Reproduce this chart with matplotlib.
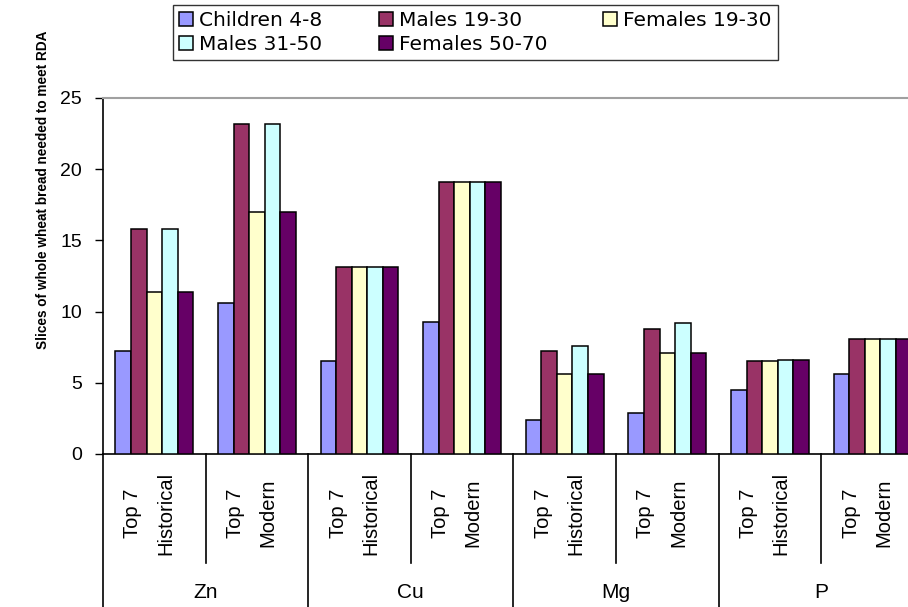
import matplotlib.pyplot as plt
import numpy as np
from matplotlib.patches import Patch

# slices of whole wheat bread per day to reach the RDA
minerals = ["Zn", "Cu", "Mg", "P"]
sources = ["Top 7\nHistorical", "Top 7\nModern"]

groups = ["Children 4-8", "Males 19-30", "Females 19-30", "Males 31-50", "Females 50-70"]
colors = ["#9999FF", "#993366", "#FFFFCC", "#CCFFFF", "#660066"]

children = [7.2, 10.6, 6.5, 9.3, 2.4, 2.9, 4.5, 5.6]
males_19_30 = [15.8, 23.2, 13.1, 19.1, 7.2, 8.8, 6.5, 8.1]
females_19_30 = [11.4, 17.0, 13.1, 19.1, 5.6, 7.1, 6.5, 8.1]
males_31_50 = [15.8, 23.2, 13.1, 19.1, 7.6, 9.2, 6.6, 8.1]
females_50_70 = [11.4, 17.0, 13.1, 19.1, 5.6, 7.1, 6.6, 8.1]

series = [children, males_19_30, females_19_30, males_31_50, females_50_70]

plt.rcParams['font.family'] = ['Liberation Sans', 'DejaVu Sans']

fig = plt.figure(figsize=(9.08, 6.07), dpi=100)
W, H = 908, 607
ax = fig.add_axes([103 / W, (H - 454) / H, (W - 103) / W, 356 / H])

n_cat = len(minerals) * len(sources)
x = np.arange(n_cat)
bw = 0.152
for i, (vals, c) in enumerate(zip(series, colors)):
    ax.bar(x + (i - 2) * bw, vals, bw, color=c, edgecolor="black", linewidth=1.1, zorder=3)

ax.set_ylim(0, 25)
ax.set_xlim(-0.5, -0.5 + (W - 103) / 102.6)
ax.set_yticks([0, 5, 10, 15, 20, 25])
ax.tick_params(axis="y", direction="out", length=6, width=1, labelsize=14, pad=9)
ax.set_xticks([])

ax.spines["right"].set_visible(False)
ax.spines["top"].set_color("#A0A0A0")
ax.spines["top"].set_linewidth(1.5)
ax.spines["left"].set_linewidth(1.2)
ax.spines["bottom"].set_linewidth(1.2)

# two-level category axis: source labels and mineral labels with separators
trans = ax.get_xaxis_transform()
for k in range(n_cat):
    ax.text(k - 0.05, -0.166, sources[k % len(sources)], transform=trans, rotation=90,
            ha="center", va="center", multialignment="center", fontsize=14.5,
            linespacing=1.9)
for k in range(1, n_cat, 2):
    ax.plot([k - 0.5, k - 0.5], [0, -0.305], transform=trans, color="black",
            lw=1.2, clip_on=False)
for g in range(len(minerals) + 1):
    xg = g * len(sources) - 0.5
    ax.plot([xg, xg], [0, -0.45], transform=trans, color="black", lw=1.2, clip_on=False)
for g, m in enumerate(minerals):
    ax.text(g * len(sources) + 0.5, -0.388, m, transform=trans, ha="center",
            va="center", fontsize=15)

fig.text(43 / W, 1 - 190 / H, "Slices of whole wheat bread needed to meet RDA",
         rotation=90, ha="center", va="center", fontsize=9.8, fontweight="bold")

# legend filled row by row: reorder for matplotlib's column-major layout
order = [0, 3, 1, 4, 2]
handles = [Patch(facecolor=colors[i], edgecolor="black", linewidth=1.1) for i in order]
labels = [groups[i] for i in order]
fig.legend(handles, labels, ncol=3, loc="upper left", mode="expand",
           bbox_to_anchor=(173 / W, 1 - 60 / H, 605 / W, 55 / H),
           frameon=True, fancybox=False, edgecolor="black",
           prop={"family": "DejaVu Sans", "size": 14.5},
           handlelength=0.7, handleheight=0.7, handletextpad=0.3,
           columnspacing=1.0, labelspacing=0.25, borderpad=0.3, borderaxespad=0)

fig.savefig("out.png", dpi=100)
